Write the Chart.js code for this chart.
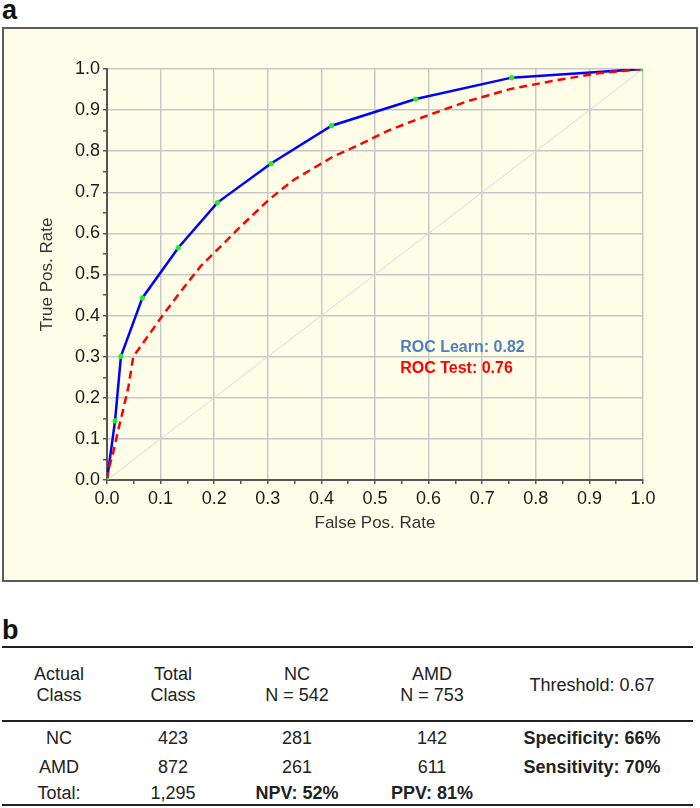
<!DOCTYPE html>
<html lang="en">
<head>
    <meta charset="UTF-8">
    <title>ROC curve - Learn vs Test</title>
    <script src="https://cdn.jsdelivr.net/npm/chart.js@4"></script>
    <style>
        body { margin: 0; width: 700px; height: 808px; position: relative; overflow: hidden;
               background: #fff; color: #222; font-family: "Liberation Sans", Arial, sans-serif; }
        .panel-label { position: absolute; left: 2px; font-weight: bold; font-size: 27px; line-height: 27px; color: #111; }
        #box { position: absolute; left: 2px; top: 27px; width: 692px; height: 551px;
               border: 2px solid #5a5a5a; background: #fefee8; }
        #box canvas { display: block; }
        .rule { position: absolute; left: 2px; width: 691px; height: 2px; background: #222; }
        .cell { position: absolute; width: 220px; text-align: center; font-size: 18px; line-height: 21px; white-space: nowrap; }
        .cell.bold { font-weight: bold; }
    </style>
</head>
<body>
    <div class="panel-label" style="top:-3px;">a</div>
    <div id="box"><canvas id="rocChart" width="692" height="551"></canvas></div>

    <div class="panel-label" style="top:617px;">b</div>
    <div id="table"></div>

    <script>
        // ROC curve, learning sample (blue, points marked green)
        const learnFpr = [0, 0.015, 0.026, 0.066, 0.133, 0.206, 0.306, 0.419, 0.576, 0.755, 1.0];
        const learnTpr = [0, 0.144, 0.301, 0.443, 0.565, 0.675, 0.770, 0.862, 0.927, 0.979, 1.0];

        // ROC curve, test sample (red dashed)
        const testFpr = [0, 0.0025, 0.012, 0.021, 0.030, 0.040, 0.049, 0.102, 0.130, 0.174, 0.204, 0.248,
                         0.301, 0.348, 0.422, 0.453, 0.528, 0.600, 0.674, 0.752, 0.839, 0.920, 1.0];
        const testTpr = [0, 0.024, 0.069, 0.122, 0.170, 0.227, 0.300, 0.397, 0.446, 0.519, 0.558, 0.615,
                         0.681, 0.730, 0.787, 0.805, 0.852, 0.888, 0.922, 0.951, 0.973, 0.990, 1.0];

        // chance diagonal
        const chance = [0, 1];

        const aucLabels = ['ROC Learn: 0.82', 'ROC Test: 0.76'];

        // table b
        const headerCols = [['Actual', 'Class'], ['Total', 'Class'], ['NC', 'N = 542'], ['AMD', 'N = 753'], ['Threshold: 0.67']];
        const bodyRows = [
            ['NC', '423', '281', '142', 'Specificity: 66%'],
            ['AMD', '872', '261', '611', 'Sensitivity: 70%'],
            ['Total:', '1,295', 'NPV: 52%', 'PPV: 81%', '']
        ];

        const toPts = (xs, ys) => xs.map((v, i) => ({ x: v, y: ys[i] }));

        const rocText = {
            id: 'rocText',
            afterDatasetsDraw(chart) {
                const { ctx, scales: { x, y } } = chart;
                const left = x.getPixelForValue(0.547);
                const top = y.getPixelForValue(0.312);
                ctx.save();
                ctx.font = 'bold 16px "Liberation Sans", Arial, sans-serif';
                ctx.textBaseline = 'alphabetic';
                ctx.fillStyle = '#4f7fc0';
                ctx.fillText(aucLabels[0], left, top);
                ctx.fillStyle = '#ff0000';
                ctx.fillText(aucLabels[1], left, top + 21);
                ctx.restore();
            }
        };

        const gridColor = c => (c.index % 2 === 0 ? '#c8c8c8' : 'rgba(0,0,0,0)');
        const tickFont = { family: '"Liberation Sans", Arial, sans-serif', size: 18 };
        const titleFont = { family: '"Liberation Sans", Arial, sans-serif', size: 17 };

        new Chart(document.getElementById('rocChart'), {
            type: 'scatter',
            data: {
                datasets: [
                    {
                        // markers on top
                        data: toPts(learnFpr, learnTpr),
                        showLine: false,
                        pointRadius: 2.6,
                        pointBackgroundColor: '#22ee22',
                        pointBorderWidth: 0
                    },
                    {
                        data: toPts(testFpr, testTpr),
                        showLine: true,
                        borderColor: '#ff0000',
                        borderWidth: 2.5,
                        borderDash: [8, 5],
                        tension: 0,
                        pointRadius: 0
                    },
                    {
                        data: toPts(learnFpr, learnTpr),
                        showLine: true,
                        borderColor: '#0000ff',
                        borderWidth: 2.5,
                        tension: 0,
                        pointRadius: 0
                    },
                    {
                        data: toPts(chance, chance),
                        showLine: true,
                        borderColor: '#d8d8d8',
                        borderWidth: 1,
                        pointRadius: 0
                    }
                ]
            },
            options: {
                responsive: false,
                animation: false,
                layout: { padding: { left: 30, top: 40, right: 53, bottom: 40 } },
                plugins: { legend: { display: false }, tooltip: { enabled: false } },
                scales: {
                    x: {
                        type: 'linear', min: 0, max: 1,
                        afterFit: s => { s.height = 60; },
                        ticks: {
                            stepSize: 0.05, autoSkip: false, maxRotation: 0, padding: 4,
                            color: '#1a1a1a', font: tickFont,
                            callback: (v, i) => (i % 2 === 0 ? v.toFixed(1) : '')
                        },
                        grid: { color: gridColor, lineWidth: 1.5, tickColor: '#555', tickLength: 4 },
                        border: { color: '#555', width: 2 },
                        title: { display: true, text: 'False Pos. Rate', color: '#333', font: titleFont, padding: { top: 0, bottom: 6 } }
                    },
                    y: {
                        type: 'linear', min: 0, max: 1,
                        afterFit: s => { s.width = 73; },
                        ticks: {
                            stepSize: 0.05, autoSkip: false, padding: 3,
                            color: '#1a1a1a', font: tickFont,
                            callback: (v, i) => (i % 2 === 0 ? v.toFixed(1) : '')
                        },
                        grid: { color: gridColor, lineWidth: 1.5, tickColor: '#555', tickLength: 4 },
                        border: { color: '#555', width: 2 },
                        title: { display: true, text: 'True Pos. Rate', color: '#333', font: titleFont, padding: { top: 3, bottom: 0 } }
                    }
                }
            },
            plugins: [rocText]
        });

        // build table b
        const table = document.getElementById('table');
        const colX = [59, 173, 297, 432, 592];
        const rowY = [738, 767, 793];

        function addCell(text, cx, cy, bold) {
            const d = document.createElement('div');
            d.className = 'cell' + (bold ? ' bold' : '');
            d.style.left = (cx - 110) + 'px';
            d.style.top = (cy - 10.5) + 'px';
            d.textContent = text;
            table.appendChild(d);
        }
        function addRule(y) {
            const r = document.createElement('div');
            r.className = 'rule';
            r.style.top = y + 'px';
            table.appendChild(r);
        }

        addRule(646);
        addRule(720);
        addRule(804);

        headerCols.forEach((lines, c) => {
            if (lines.length === 1) addCell(lines[0], colX[c], 685, false);
            else lines.forEach((t, k) => addCell(t, colX[c], 674 + k * 21, false));
        });
        bodyRows.forEach((row, r) => {
            row.forEach((t, c) => addCell(t, colX[c], rowY[r], t.indexOf('%') >= 0));
        });
    </script>
</body>
</html>
